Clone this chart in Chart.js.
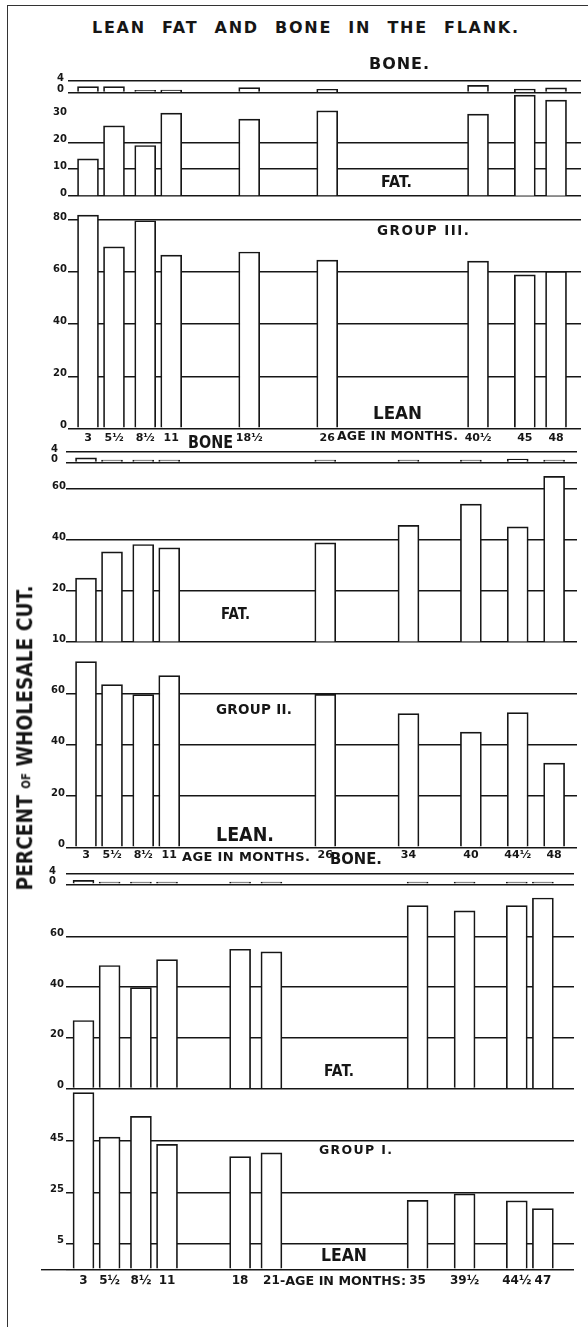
<!DOCTYPE html>
<html><head><meta charset="utf-8">
<script src="https://cdn.jsdelivr.net/npm/chart.js@4.4.1/dist/chart.umd.min.js"></script>
<style>
html,body{margin:0;padding:0;background:#fff;}
body{width:588px;height:1327px;position:relative;overflow:hidden;}
#frame{position:absolute;left:7px;top:5px;width:700px;height:1400px;border-left:1.5px solid #333;border-top:1.5px solid #333;}
canvas{position:absolute;left:0;}
.lbl{position:absolute;white-space:nowrap;font-family:'DejaVu Sans',sans-serif;font-weight:bold;line-height:1;color:#161616;transform-origin:0 50%;}
</style></head><body>
<div id="frame"></div>
<canvas id="g3"></canvas><canvas id="g2"></canvas><canvas id="g1"></canvas>
<script>
// ---------------- DATA ----------------
// Group III
const agesG3 = [3, 5.5, 8.5, 11, 18.5, 26, 40.5, 45, 48];
const ageLabelsG3 = ['3', '5½', '8½', '11', '18½', '26', '40½', '45', '48'];
const boneG3 = [2.05, 2.05, 0.4, 0.8, 1.7, 1.1, 2.5, 1.15, 1.6];
const fatG3 = [13.8, 26.1, 18.8, 30.8, 28.6, 31.7, 30.5, 37.5, 35.7];
const leanG3 = [81.9, 69.7, 79.7, 66.5, 67.7, 64.6, 64.2, 58.9, 60.3];
// Group II
const agesG2 = [3, 5.5, 8.5, 11, 26, 34, 40, 44.5, 48];
const ageLabelsG2 = ['3', '5½', '8½', '11', '26', '34', '40', '44½', '48'];
const boneG2 = [1.7, 0.5, 0.4, 0.3, 0.3, 0.6, 0.5, 1.3, 0.4];
const fatG2 = [25.1, 35.4, 38.3, 37.0, 38.9, 45.8, 54.1, 45.2, 65.0];
const leanG2 = [72.5, 63.5, 59.6, 67.0, 59.7, 52.2, 45.0, 52.6, 32.9];
// Group I
const agesG1 = [3, 5.5, 8.5, 11, 18, 21, 35, 39.5, 44.5, 47];
const ageLabelsG1 = ['3', '5½', '8½', '11', '18', '21', '35', '39½', '44½', '47'];
const boneG1 = [1.5, 0.25, 0.25, 0.25, 0.5, 0.15, 0.4, 0.15, 0.5, 0.4];
const fatG1 = [26.8, 48.5, 39.8, 50.8, 54.9, 53.9, 72.1, 70.0, 72.1, 75.1];
const leanG1 = [68.9, 51.5, 59.6, 48.7, 43.9, 45.4, 26.9, 29.4, 26.7, 23.7];

// Tick values and tick labels
const boneTicks = [0, 4];
const boneTickLabels = ['0', '4'];
const fatTicksG3 = [0, 10, 20, 30];
const fatTickLabelsG3 = ['0', '10', '20', '30'];
const fatGridG3 = [0, 10, 20];
const leanTicksG3 = [0, 20, 40, 60, 80];
const leanTickLabelsG3 = ['0', '20', '40', '60', '80'];
const fatTicksG2 = [0, 20, 40, 60];
const fatTickLabelsG2 = ['10', '20', '40', '60'];
const leanTicksG2 = [0, 20, 40, 60];
const leanTickLabelsG2 = ['0', '20', '40', '60'];
const fatTicksG1 = [0, 20, 40, 60];
const fatTickLabelsG1 = ['0', '20', '40', '60'];
const leanTicksG1 = [0, 10, 30, 50];
const leanTickLabelsG1 = ['', '5', '25', '45'];

// ---------------- DRAWING ----------------
const FONT = "'DejaVu Sans', sans-serif";
const INK = '#161616';
const NONE = 'rgba(0,0,0,0)';

function yAxis(min, max, weight, order, ticks, labels, gridVals, pad, size, ext) {
  const grid = {drawTicks: false, lineWidth: 1.4,
    color: c => (c.tick && gridVals.includes(c.tick.value)) ? INK : NONE};
  if (ext) {
    grid.drawTicks = true; grid.tickLength = ext; grid.tickWidth = 1.4;
    grid.tickColor = c => (c.tick && c.tick.value === 0) ? INK : NONE;
  }
  return {
    type: 'linear', position: 'left', stack: 'grp', stackWeight: weight, weight: order,
    min: min, max: max,
    border: {display: false},
    grid: grid,
    afterBuildTicks: s => { s.ticks = ticks.map(v => ({value: v})); },
    afterFit: s => { s.width = 30; },
    ticks: {autoSkip: false, padding: pad - (ext || 0), labelOffset: -3, color: INK,
      font: {family: FONT, weight: 'bold', size: size},
      callback: (v, i) => labels[i]}
  };
}

function buildGroup(id, ages, ageLabels, bone, fat, lean, ax, geo) {
  const cv = document.getElementById(id);
  const top = Math.floor(geo.areaTop) - 4;
  const padTop = geo.areaTop - top;
  const xH = 22;
  const H = Math.round(geo.areaBottom - top + xH);
  cv.width = 588; cv.height = H;
  cv.style.top = top + 'px'; cv.style.width = '588px'; cv.style.height = H + 'px';
  const hB = geo.boneZero - geo.areaTop, hF = geo.fatZero - geo.boneZero, hL = geo.areaBottom - geo.fatZero;
  const bar = {backgroundColor: '#ffffff', borderColor: INK, borderWidth: 1.7, barThickness: 21,
    grouped: false, borderSkipped: 'start'};
  const pts = arr => ages.map((a, i) => ({x: a, y: arr[i]}));
  new Chart(cv, {
    type: 'bar',
    data: {datasets: [
      Object.assign({label: 'Lean', data: pts(lean), yAxisID: 'lean'}, bar),
      Object.assign({label: 'Fat', data: pts(fat), yAxisID: 'fat'}, bar),
      Object.assign({label: 'Bone', data: pts(bone), yAxisID: 'bone'}, bar, {minBarLength: 2.2})
    ]},
    options: {
      responsive: false, animation: false, devicePixelRatio: 1,
      layout: {padding: {left: geo.left - 30, right: 588 - geo.right, top: padTop, bottom: H - xH - (geo.areaBottom - top)}},
      plugins: {legend: {display: false}, tooltip: {enabled: false}},
      scales: {
        x: {type: 'linear', min: geo.xMin, max: geo.xMax, offset: false,
          grid: {display: false, drawTicks: false}, border: {display: false},
          afterBuildTicks: s => { s.ticks = ages.map(v => ({value: v})); },
          afterFit: s => { s.height = xH; },
          ticks: {autoSkip: false, maxRotation: 0, minRotation: 0, padding: geo.xPad, color: INK,
            font: {family: FONT, weight: 'bold', size: geo.xFont},
            callback: (v, i) => ageLabels[i]}},
        lean: yAxis(0, ax.leanMax, hL, 1, ax.leanTicks, ax.leanLabels, ax.leanGrid, ax.padLean, 10, ax.baseExt),
        fat: yAxis(0, ax.fatMax, hF, 2, ax.fatTicks, ax.fatLabels, ax.fatGrid, ax.padFat, 10, 0),
        bone: yAxis(0, 4, hB, 3, boneTicks, boneTickLabels, boneTicks, ax.padBone, 10, 0)
      }
    }
  });
}

buildGroup('g3', agesG3, ageLabelsG3, boneG3, fatG3, leanG3,
  {leanMax: 89.2, fatMax: 38.5, leanTicks: leanTicksG3, leanLabels: leanTickLabelsG3, leanGrid: leanTicksG3,
   fatTicks: fatTicksG3, fatLabels: fatTickLabelsG3, fatGrid: fatGridG3, padLean: 1, padFat: 1, padBone: 4, baseExt: 0},
  {areaTop: 75, boneZero: 86.7, fatZero: 192, areaBottom: 428.3, left: 68, right: 581,
   xMin: 1.077, xMax: 50.4, xPad: 3, xFont: 11});

buildGroup('g2', agesG2, ageLabelsG2, boneG2, fatG2, leanG2,
  {leanMax: 80.1, fatMax: 70.5, leanTicks: leanTicksG2, leanLabels: leanTickLabelsG2, leanGrid: leanTicksG2,
   fatTicks: fatTicksG2, fatLabels: fatTickLabelsG2, fatGrid: fatTicksG2, padLean: 1, padFat: 0, padBone: 8, baseExt: 0},
  {areaTop: 442.7, boneZero: 453.3, fatZero: 637.3, areaBottom: 847.3, left: 66, right: 577,
   xMin: 1.077, xMax: 50.2, xPad: 1, xFont: 11});

buildGroup('g1', agesG1, ageLabelsG1, boneG1, fatG1, leanG1,
  {leanMax: 70.5, fatMax: 80.5, leanTicks: leanTicksG1, leanLabels: leanTickLabelsG1, leanGrid: leanTicksG1,
   fatTicks: fatTicksG1, fatLabels: fatTickLabelsG1, fatGrid: fatTicksG1, padLean: 2, padFat: 2, padBone: 10, baseExt: 25},
  {areaTop: 862.7, boneZero: 873.3, fatZero: 1083.3, areaBottom: 1269.3, left: 66, right: 574,
   xMin: 1.324, xMax: 49.98, xPad: 4, xFont: 12});

// ---------------- TEXT ----------------
function fitLabel(html, x0, x1, yc, size, wordSpacing) {
  const el = document.createElement('div');
  el.className = 'lbl';
  el.innerHTML = html;
  el.style.fontSize = size + 'px';
  if (wordSpacing) el.style.wordSpacing = wordSpacing + 'px';
  document.body.appendChild(el);
  const n = el.textContent.length;
  const w0 = el.getBoundingClientRect().width;
  const target = x1 - x0;
  el.style.left = x0 + 'px';
  el.style.top = (yc - size / 2) + 'px';
  if (w0 > target) {
    el.style.transform = 'scaleX(' + (target / w0) + ')';
  } else if (n > 1) {
    el.style.letterSpacing = ((target - w0) / (n - 1)) + 'px';
  }
  return el;
}

fitLabel('LEAN FAT AND BONE IN THE FLANK.', 92, 518, 27.5, 16, 9);
// Group III
fitLabel('BONE.', 369, 429, 64, 16);
fitLabel('FAT.', 381, 412, 181.7, 16);
fitLabel('GROUP III.', 377, 469, 230.8, 13.5);
fitLabel('LEAN', 373, 422, 413.3, 18);
fitLabel('AGE IN MONTHS.', 337, 458, 436.5, 12.5);
// Group II
fitLabel('BONE', 188, 233, 442, 17);
fitLabel('FAT.', 221, 250, 614, 16);
fitLabel('GROUP II.', 216, 292, 710, 13.5);
fitLabel('LEAN.', 216, 274, 834, 20);
fitLabel('AGE IN MONTHS.', 182, 310, 856, 13);
// Group I
fitLabel('BONE.', 330, 382, 859, 16);
fitLabel('FAT.', 324, 354, 1071, 16);
fitLabel('GROUP I.', 319, 392, 1150.7, 12.5);
fitLabel('LEAN', 321, 367, 1255, 18);
fitLabel('-AGE IN MONTHS:', 280, 406, 1280, 13);

// rotated axis title
(function () {
  const el = document.createElement('div');
  el.className = 'lbl';
  el.innerHTML = 'PERCENT <span style="font-size:12px;vertical-align:middle">OF</span> WHOLESALE CUT.';
  el.style.fontSize = '22px';
  document.body.appendChild(el);
  const w0 = el.getBoundingClientRect().width;
  const L = 305, cx = 25, cy = 737.5, h = 22;
  el.style.left = (cx - w0 / 2) + 'px';
  el.style.top = (cy - h / 2) + 'px';
  el.style.transformOrigin = '50% 50%';
  el.style.transform = 'rotate(-90deg) scaleX(' + (L / w0) + ')';
})();
</script>
</body></html>
